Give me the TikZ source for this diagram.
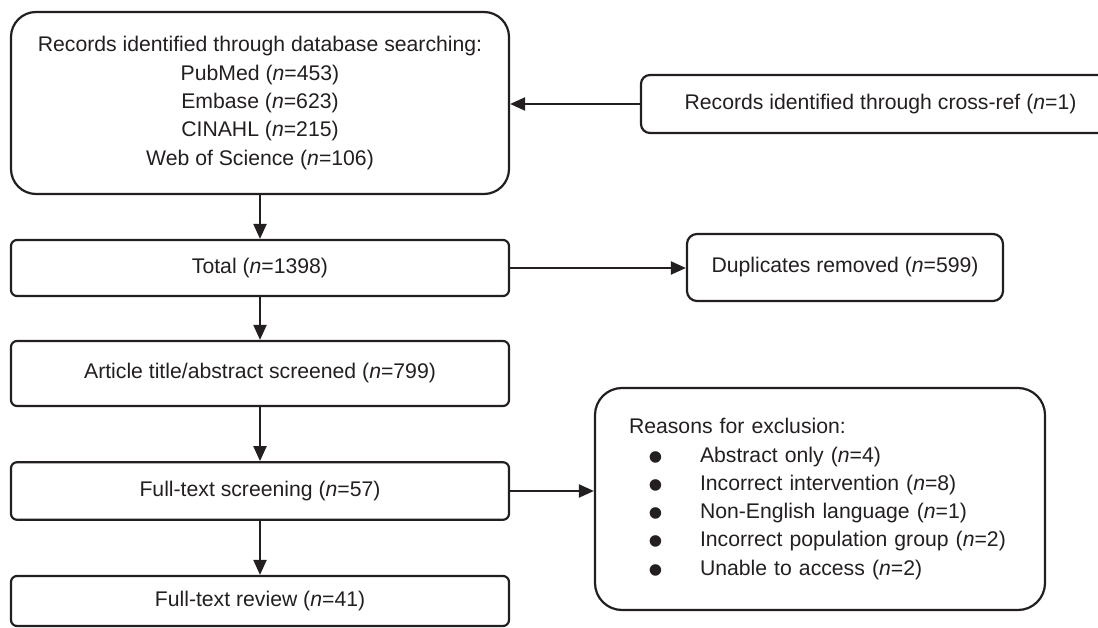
\documentclass[tikz,border=0pt]{standalone}
\usepackage{fontspec}
\setmainfont{Liberation Sans}
\usepackage{graphicx}
\usetikzlibrary{arrows.meta,calc}
\definecolor{ink}{RGB}{35,31,32}
\newcommand{\bul}{\makebox[71pt][l]{\hspace{19.6pt}\smash{\raisebox{-9pt}{\scalebox{2}{\textbullet}}}}}
\begin{document}
\begin{tikzpicture}[x=1pt,y=-1pt,
  every node/.style={font=\fontsize{21.2}{28.3}\selectfont, text=ink},
  box/.style={draw=ink, line width=2.2pt, rounded corners=6pt, inner sep=0pt},
  arr/.style={draw=ink, line width=2.1pt, -{Triangle[length=15pt,width=13pt]}}]
\useasboundingbox (0,0) rectangle (1098,628);

\node[box, rounded corners=25pt, minimum width=498pt, minimum height=182pt, align=center] (db) at (260,103)
  {Records identified through database searching:\\
   PubMed (\textit{n}=453)\\
   Embase (\textit{n}=623)\\
   CINAHL (\textit{n}=215)\\
   Web of Science (\textit{n}=106)};
\node[box, minimum width=498pt, minimum height=56pt] (total) at (260,268) {Total (\textit{n}=1398)};
\node[box, minimum width=498pt, minimum height=65pt] (art) at (260,373.5) {Article title/abstract screened (\textit{n}=799)};
\node[box, minimum width=498pt, minimum height=57.5pt] (fts) at (260,491) {Full-text screening (\textit{n}=57)};
\node[box, minimum width=498pt, minimum height=50pt] (ftr) at (260,601) {Full-text review (\textit{n}=41)};
\node[box, rounded corners=9pt, minimum width=479pt, minimum height=58pt] (xref) at (880.5,104) {Records identified through cross-ref (\textit{n}=1)};
\node[box, rounded corners=10pt, minimum width=316pt, minimum height=67pt] (dup) at (845,267.5) {Duplicates removed (\textit{n}=599)};
\node[box, rounded corners=27pt, minimum height=222pt, text width=382pt, inner xsep=34pt, align=left] (reasons) at (820,499)
  {Reasons for exclusion:\\
   \bul Abstract only (\textit{n}=4)\\
   \bul Incorrect intervention (\textit{n}=8)\\
   \bul Non-English language (\textit{n}=1)\\
   \bul Incorrect population group (\textit{n}=2)\\
   \bul Unable to access (\textit{n}=2)};

\draw[arr] (db) -- (total);
\draw[arr] (total) -- (art);
\draw[arr] (art) -- (fts);
\draw[arr] (fts) -- (ftr);
\draw[arr] (xref.west) -- (xref.west -| db.east);
\draw[arr] (total.east) -- (total.east -| dup.west);
\draw[arr] (fts.east) -- (fts.east -| reasons.west);
\end{tikzpicture}
\end{document}
